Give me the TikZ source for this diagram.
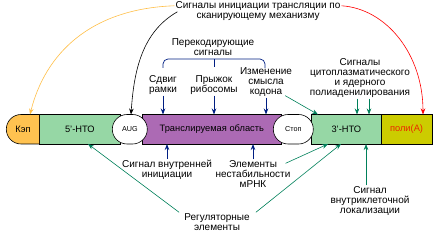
\documentclass[tikz,border=0pt]{standalone}
\usepackage{fontspec}
\setmainfont{Liberation Sans}
\usetikzlibrary{arrows.meta,shapes.misc}
\definecolor{kapc}{RGB}{255,194,80}
\definecolor{utrc}{RGB}{150,215,165}
\definecolor{cdsc}{RGB}{172,106,180}
\definecolor{polyc}{RGB}{204,204,0}
\definecolor{polytx}{RGB}{235,40,0}
\definecolor{grnc}{RGB}{0,128,90}
\definecolor{bluc}{RGB}{0,30,130}
\definecolor{orgc}{RGB}{255,190,70}
\begin{document}
\begin{tikzpicture}[x=1pt, y=-1pt, font=\fontsize{10}{10}\selectfont, >={Stealth[length=6pt,width=4.5pt]},
    seg/.style={draw=black, line width=0.6pt, minimum height=29.5pt, inner sep=0pt, anchor=west, font=\fontsize{9.3}{10}\selectfont},
    kapseg/.style={seg, rounded rectangle, rounded rectangle right arc=none, rounded rectangle left arc=convex},
    codonseg/.style={seg, rounded rectangle, fill=white, font=\fontsize{7.2}{8}\selectfont},
    lbl/.style={align=center, inner sep=1pt},
    bluarr/.style={->, draw=bluc, line width=0.8pt},
    grnarr/.style={->, draw=grnc, line width=0.6pt}]
  \useasboundingbox (0,0) rectangle (433,232);
  \node[seg, fill=utrc, minimum width=81pt] (utr5) at (39,129.25) {5'-НТО};
  \node[seg, fill=cdsc, minimum width=139pt] (cds) at (142,129.25) {Транслируемая область};
  \node[seg, fill=utrc, minimum width=70pt] (utr3) at (311,129.25) {3'-НТО};
  \node[seg, fill=polyc, minimum width=50.5pt, text=polytx] (polya) at (381,129.25) {поли(А)};
  \node[kapseg, fill=kapc, minimum width=33pt] (kap) at (6,129.25) {Кэп};
  \node[codonseg, minimum width=35pt] (aug) at (112,129.25) {AUG};
  \node[codonseg, minimum width=40pt] (stop) at (273,129.25) {Стоп};
  \node[lbl] (scan) at (258,11.5) {Сигналы инициации трансляции по\\сканирующему механизму};
  \node[lbl] (recode) at (213,47) {Перекодирующие\\сигналы};
  \node[lbl] (shift) at (163,85) {Сдвиг\\рамки};
  \node[lbl] (jump) at (214,85) {Прыжок\\рибосомы};
  \node[lbl] (sense) at (266,82) {Изменение\\смысла\\кодона};
  \node[lbl] (polyad) at (360,78) {Сигналы\\цитоплазматического\\и ядерного\\полиаденилирования};
  \node[lbl] (ires) at (167,170) {Сигнал внутренней\\инициации};
  \node[lbl] (instab) at (253,174) {Элементы\\нестабильности\\мРНК};
  \node[lbl] (reg) at (217,222) {Регуляторные\\элементы};
  \node[lbl] (local) at (370,201) {Сигнал\\внутриклеточной\\локализации};
  \coordinate (kapT) at (30,114.5);
  \coordinate (augT) at (131,114.5);
  \coordinate (polyT) at (423,114.5);
  \coordinate (fsT) at (163,114.5);
  \coordinate (jmT) at (214,114.5);
  \coordinate (snT) at (266,114.5);
  \coordinate (u3T) at (318,114.5);
  \coordinate (paT1) at (357,114.5);
  \coordinate (paT2) at (369,114.5);
  \coordinate (iresB) at (167,144);
  \coordinate (instB) at (253,144);
  \coordinate (u5B) at (88,144);
  \coordinate (u3B1) at (328,144);
  \coordinate (u3B2) at (341,144);
  \coordinate (locB) at (366,144);
  \draw[->, draw=orgc, line width=0.6pt] ([yshift=-5pt]scan.north west) .. controls +(-85,3) and +(15,-60) .. (kapT);
  \draw[->, draw=black, line width=0.6pt] ([xshift=3pt,yshift=-11pt]scan.north west) .. controls +(-35,20) and +(3,-45) .. (augT);
  \draw[->, draw=red, line width=0.6pt] ([yshift=-5pt]scan.north east) .. controls +(45,3) and +(0,-60) .. (polyT);
  \draw[draw=bluc, line width=0.7pt, rounded corners=5pt] (163,68) |- (214,59) -| (265,68);
  \draw[draw=bluc, line width=0.7pt] (214,59) -- (214,67);
  \foreach \a/\b in {shift/fsT, jump/jmT, sense/snT} {\draw[bluarr] (\a.south) -- (\b);}
  \foreach \a/\b in {ires/iresB, instab/instB} {\draw[bluarr] (\a.north) -- (\b);}
  \draw[grnarr] ([xshift=-8pt,yshift=2pt]sense.south east) -- (u3T);
  \draw[grnarr] ([xshift=-3pt]polyad.south) -- (paT1);
  \draw[grnarr] ([xshift=9pt]polyad.south) -- (paT2);
  \draw[grnarr] ([xshift=-6pt,yshift=-4pt]instab.north east) -- (u3B1);
  \draw[grnarr] ([xshift=-4pt]reg.north west) -- (u5B);
  \draw[grnarr] ([xshift=5pt]reg.north east) -- (u3B2);
  \draw[grnarr] ([xshift=-4pt]local.north) -- (locB);
\end{tikzpicture}
\end{document}
